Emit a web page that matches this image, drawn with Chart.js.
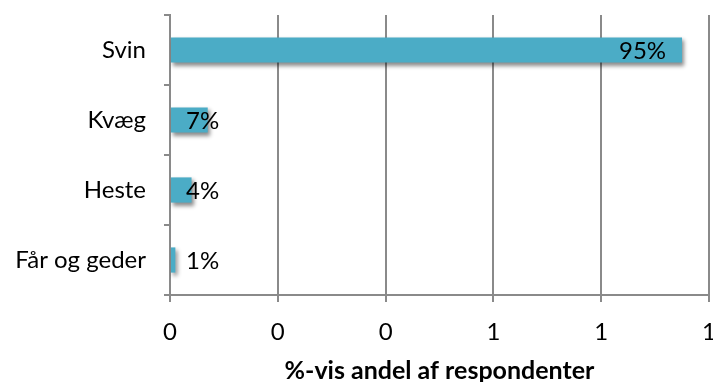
<!DOCTYPE html>
<html>
<head>
<meta charset="utf-8">
<script src="https://cdn.jsdelivr.net/npm/chart.js@4/dist/chart.umd.min.js"></script>
<style>
  html, body { margin: 0; padding: 0; background: #ffffff; }
  #wrap { width: 713px; height: 382px; }
</style>
</head>
<body>
<div id="wrap"><canvas id="c" width="713" height="382"></canvas></div>
<script>
// Animal categories and share of respondents
const categories = ['Svin', 'Kvæg', 'Heste', 'Får og geder'];
const shares = [0.95, 0.07, 0.04, 0.01];
const shareLabels = ['95%', '7%', '4%', '1%'];
const xTicks = [0, 0.2, 0.4, 0.6, 0.8, 1.0];
const axisTitle = '%-vis andel af respondenter';

const FONT = 'Lato, "Open Sans", sans-serif';
const GRID = '#8a8a8a';
const BAR = '#4bacc6';

// Drop shadow behind the bars
const barShadow = {
  id: 'barShadow',
  beforeDatasetDraw(chart) {
    const ctx = chart.ctx;
    ctx.save();
    ctx.shadowColor = 'rgba(0,0,0,0.45)';
    ctx.shadowBlur = 4;
    ctx.shadowOffsetX = 2;
    ctx.shadowOffsetY = 3;
  },
  afterDatasetDraw(chart) {
    chart.ctx.restore();
  }
};

// Value labels: inside the bar end for long bars, just past the axis for short ones
const valueLabels = {
  id: 'valueLabels',
  afterDatasetsDraw(chart) {
    const ctx = chart.ctx;
    const meta = chart.getDatasetMeta(0);
    const x0 = chart.scales.x.getPixelForValue(0);
    ctx.save();
    ctx.font = '24px ' + FONT;
    ctx.fillStyle = '#000000';
    ctx.textBaseline = 'middle';
    ctx.textAlign = 'left';
    meta.data.forEach((bar, i) => {
      const txt = shareLabels[i];
      const w = ctx.measureText(txt).width;
      let x = bar.x - 16 - w;
      if (x < x0 + 16) x = x0 + 16;
      ctx.fillText(txt, x, bar.y + 1);
    });
    ctx.restore();
  }
};

// Keep the plot area edges fixed regardless of label overhang
function noPad(scale) {
  scale.paddingLeft = 0;
  scale.paddingRight = 0;
  scale.paddingTop = 0;
  scale.paddingBottom = 0;
}

new Chart(document.getElementById('c'), {
  type: 'bar',
  data: {
    labels: categories,
    datasets: [{
      data: shares,
      backgroundColor: BAR,
      borderWidth: 0,
      barPercentage: 0.36,
      categoryPercentage: 1.0
    }]
  },
  options: {
    indexAxis: 'y',
    responsive: false,
    animation: false,
    devicePixelRatio: 1,
    layout: { padding: { top: 15, right: 4, left: 0, bottom: 0 } },
    plugins: {
      legend: { display: false },
      tooltip: { enabled: false }
    },
    scales: {
      x: {
        min: 0,
        max: 1,
        afterBuildTicks(scale) {
          scale.ticks = xTicks.map(v => ({ value: v }));
        },
        afterFit(scale) { scale.height = 87; noPad(scale); },
        ticks: {
          callback: v => String(Math.round(v)),
          font: { family: FONT, size: 24 },
          color: '#000000',
          padding: 16,
          maxRotation: 0
        },
        grid: {
          color: GRID,
          lineWidth: 2,
          tickLength: 7,
          drawTicks: true
        },
        border: { color: GRID, width: 2 },
        title: {
          display: true,
          text: axisTitle,
          font: { family: FONT, size: 25, weight: 'bold', lineHeight: 0.9 },
          color: '#000000',
          padding: { top: 0, bottom: 0 }
        }
      },
      y: {
        afterFit(scale) { scale.width = 170; noPad(scale); },
        ticks: {
          font: { family: FONT, size: 24 },
          color: '#000000',
          padding: 18
        },
        grid: {
          offset: true,
          drawOnChartArea: false,
          color: GRID,
          lineWidth: 2,
          tickLength: 6
        },
        border: { color: GRID, width: 2 }
      }
    }
  },
  plugins: [barShadow, valueLabels]
});
</script>
</body>
</html>
